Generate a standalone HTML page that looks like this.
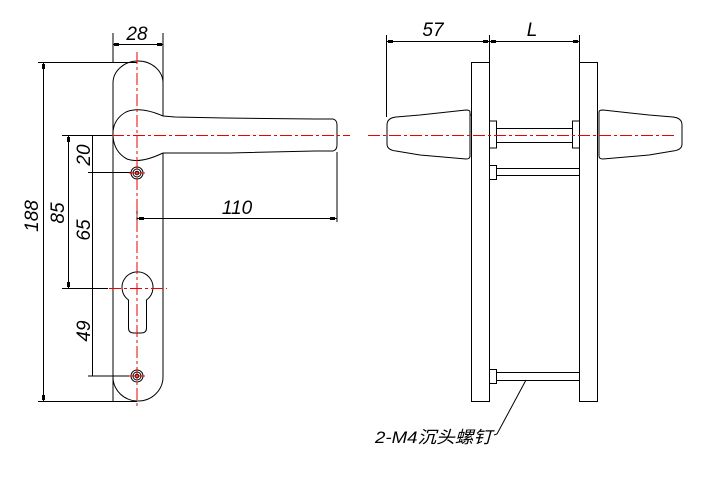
<!DOCTYPE html>
<html><head><meta charset="utf-8"><style>html,body{margin:0;padding:0;background:#fff}svg{display:block}</style></head><body>
<svg width="714" height="477" viewBox="0 0 714 477" xmlns="http://www.w3.org/2000/svg" font-family="Liberation Sans, sans-serif">
<g fill="none" stroke="#000" stroke-width="1">
<path d="M113,401 L113,83 A25,22 0 0 1 163,83 L163,116"/>
<path d="M163,153 L163,377 A25,24 0 0 1 113,377"/>
<path d="M163,116 L175,117 L225,118 L315,119 L333,119 Q337,120 337,125 L337,145 Q337,150 333,151 L315,151 L230,153 L180,153 L163,153"/>
<path d="M163,116 Q140,106 126,112 Q112,120 113,136 Q114,152 127,159 Q140,164 163,153"/>
<circle cx="137" cy="173" r="6"/><circle cx="137" cy="173" r="4"/><circle cx="137" cy="173" r="1.8"/>
<circle cx="137" cy="376" r="6"/><circle cx="137" cy="376" r="4"/><circle cx="137" cy="376" r="1.8"/>
<path d="M128.5,300 A15.5,15.5 0 1 1 146.5,300 L146.5,328 Q146.5,333 141,333 L134,333 Q128.5,333 128.5,328 Z"/>
<line x1="113" y1="33" x2="113" y2="62"/><line x1="163" y1="33" x2="163" y2="82"/>
<line x1="113" y1="44.5" x2="163" y2="44.5"/>
<line x1="38" y1="62.5" x2="137" y2="62.5"/><line x1="38" y1="401.5" x2="137" y2="401.5"/>
<line x1="43.5" y1="62.5" x2="43.5" y2="401.5"/>
<line x1="62" y1="135.5" x2="112" y2="135.5"/>
<line x1="68.5" y1="135.5" x2="68.5" y2="288.5"/>
<line x1="62" y1="288.5" x2="108" y2="288.5"/>
<line x1="92.5" y1="135.5" x2="92.5" y2="376"/>
<line x1="88" y1="172.5" x2="131" y2="172.5"/><line x1="88" y1="376" x2="130" y2="376"/>
<line x1="137" y1="210" x2="137" y2="222"/><line x1="337" y1="152" x2="337" y2="222"/>
<line x1="137" y1="218.5" x2="337" y2="218.5"/>
<rect x="471.5" y="62.5" width="18" height="339"/>
<rect x="579.5" y="62.5" width="18" height="339"/>
<line x1="386.5" y1="35" x2="386.5" y2="117"/><line x1="489.5" y1="35" x2="489.5" y2="62"/><line x1="579.5" y1="35" x2="579.5" y2="62"/>
<line x1="386.5" y1="41.5" x2="579.5" y2="41.5"/>
<path d="M470,112 Q470,110 466,110 L420,115 L396,117 Q387,118 387,125 L387,144 Q387,150 396,151 L420,155 L466,159 Q470,159 470,156 Z"/>
<line x1="470" y1="115" x2="471.5" y2="115"/>
<path d="M599,112 Q599,110 603,110 L649,115 L673,117 Q682,118 682,125 L682,144 Q682,150 673,151 L649,155 L603,159 Q599,159 599,156 Z"/>
<rect x="489.5" y="121" width="7" height="27"/><rect x="572.5" y="121" width="7" height="27"/>
<line x1="496.5" y1="128.5" x2="572.5" y2="128.5"/><line x1="496.5" y1="142.5" x2="572.5" y2="142.5"/>
<rect x="489.5" y="165.5" width="7" height="14"/>
<line x1="496.5" y1="168.5" x2="579.5" y2="168.5"/><line x1="496.5" y1="175.5" x2="579.5" y2="175.5"/>
<rect x="489.5" y="369.5" width="7" height="14"/>
<line x1="496.5" y1="372.5" x2="579.5" y2="372.5"/><line x1="496.5" y1="380.5" x2="579.5" y2="380.5"/>
<path d="M526,380 L497,434 L494,435"/>
</g>
<g fill="#000">
<rect x="114" y="43" width="5" height="3"/><rect x="157" y="43" width="5" height="3"/>
<rect x="42" y="64" width="3" height="5"/><rect x="42" y="395" width="3" height="5"/>
<rect x="67" y="137" width="3" height="5"/><rect x="67" y="282" width="3" height="5"/>
<rect x="139" y="217" width="5" height="3"/><rect x="330" y="217" width="5" height="3"/>
<rect x="388" y="40" width="5" height="3"/><rect x="483" y="40" width="5" height="3"/>
<rect x="491" y="40" width="5" height="3"/><rect x="573" y="40" width="5" height="3"/>
</g>
<g stroke="#e00" stroke-width="1" fill="none" stroke-dasharray="12,3,3,3">
<line x1="112" y1="135.5" x2="350" y2="135.5"/>
<line x1="137" y1="52" x2="137" y2="408"/>
<line x1="109" y1="288.5" x2="167" y2="288.5"/>
<line x1="368" y1="135.5" x2="675" y2="135.5"/>
</g>
<g stroke="#e00" stroke-width="1">
<line x1="129" y1="173" x2="145" y2="173"/><line x1="129" y1="376" x2="145" y2="376"/>
</g>
<g font-size="19" font-style="italic" fill="#000" text-anchor="middle">
<text x="137" y="40">28</text>
<text x="237" y="214">110</text>
<text x="433" y="36">57</text>
<text x="532" y="36">L</text>
<text transform="translate(90,155) rotate(-90)">20</text>
<text transform="translate(90,230) rotate(-90)">65</text>
<text transform="translate(90,331) rotate(-90)">49</text>
<text transform="translate(64,213) rotate(-90)">85</text>
<text transform="translate(38,216) rotate(-90)">188</text>
</g>
<text x="375" y="443" font-size="17" font-style="italic" textLength="117" lengthAdjust="spacingAndGlyphs" font-family="Liberation Sans, Noto Sans CJK SC, sans-serif">2-M4沉头螺钉</text>
</svg>
</body></html>
